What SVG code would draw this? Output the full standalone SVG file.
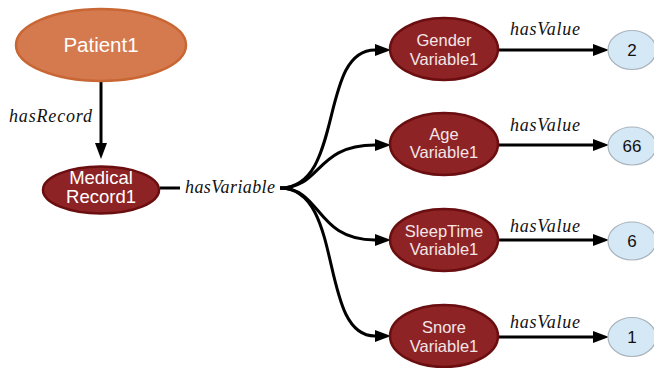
<svg xmlns="http://www.w3.org/2000/svg" width="654" height="368" viewBox="0 0 654 368">
<style>
.edge{fill:none;stroke:#000;stroke-width:3}
.lbl{font-family:"Liberation Serif",serif;font-style:italic;font-size:18px;fill:#111}
.var{fill:#8E2326;stroke:#6A0E10;stroke-width:2.5}
.vt{font-family:"Liberation Sans",Arial,sans-serif;font-size:16.5px;fill:#F3E6E6;text-anchor:middle}
.mt{font-family:"Liberation Sans",Arial,sans-serif;font-size:18.5px;fill:#FFF;text-anchor:middle}
.val{fill:#D5E8F6;stroke:#A9B3BC;stroke-width:1.2}
.valt{font-family:"Liberation Sans",Arial,sans-serif;font-size:17px;fill:#111;text-anchor:middle}
</style>
<defs>
<marker id="arr" markerUnits="userSpaceOnUse" markerWidth="16" markerHeight="12" refX="0" refY="6" orient="auto">
<path d="M0,0 L16,6 L0,12 z" fill="#000"/>
</marker>
</defs>
<g id="connectors">
<path class="edge" d="M101,81 L101,143" marker-end="url(#arr)"/>
<text class="lbl" x="9" y="122" textLength="83">hasRecord</text>
<path class="edge" d="M160,188 L180,188"/>
<text class="lbl" x="185" y="193" textLength="90">hasVariable</text>
<path class="edge" d="M280,188 C345,188 318,50 375,50" marker-end="url(#arr)"/>
<path class="edge" d="M280,188 C322,188 315,145 375,145" marker-end="url(#arr)"/>
<path class="edge" d="M280,188 C322,188 315,240 375,240" marker-end="url(#arr)"/>
<path class="edge" d="M280,188 C345,188 318,336 375,336" marker-end="url(#arr)"/>
<path class="edge" d="M498,50 L593,50" marker-end="url(#arr)"/>
<path class="edge" d="M498,145 L593,145" marker-end="url(#arr)"/>
<path class="edge" d="M498,240 L593,240" marker-end="url(#arr)"/>
<path class="edge" d="M498,337 L593,337" marker-end="url(#arr)"/>
<text class="lbl" x="510" y="35" textLength="70">hasValue</text>
<text class="lbl" x="510" y="131" textLength="70">hasValue</text>
<text class="lbl" x="510" y="232" textLength="70">hasValue</text>
<text class="lbl" x="510" y="328" textLength="70">hasValue</text>
</g>
<g id="patient1">
<ellipse cx="101" cy="45" rx="85" ry="36" fill="#D57A4F" stroke="#C86634" stroke-width="2.5"/>
<text x="101" y="52" font-family="Liberation Sans, Arial, sans-serif" font-size="20.5" fill="#FFF" text-anchor="middle">Patient1</text>
</g>
<g id="medicalrecord1">
<ellipse cx="101" cy="190" rx="58" ry="23.5" class="var"/>
<text class="mt" x="101" y="184">Medical</text>
<text class="mt" x="101" y="203">Record1</text>
</g>
<g id="gendervariable1">
<ellipse cx="444" cy="49" rx="54" ry="31" class="var"/>
<text class="vt" x="444" y="46">Gender</text>
<text class="vt" x="444" y="65">Variable1</text>
</g>
<g id="agevariable1">
<ellipse cx="444" cy="144" rx="54" ry="31" class="var"/>
<text class="vt" x="444" y="140">Age</text>
<text class="vt" x="444" y="158">Variable1</text>
</g>
<g id="sleeptimevariable1">
<ellipse cx="444" cy="240" rx="54" ry="31" class="var"/>
<text class="vt" x="444" y="237">SleepTime</text>
<text class="vt" x="444" y="255">Variable1</text>
</g>
<g id="snorevariable1">
<ellipse cx="444" cy="336" rx="54" ry="31" class="var"/>
<text class="vt" x="444" y="333">Snore</text>
<text class="vt" x="444" y="352">Variable1</text>
</g>
<g id="value2">
<ellipse cx="632" cy="50" rx="24" ry="19.5" class="val"/>
<text class="valt" x="632" y="56">2</text>
</g>
<g id="value66">
<ellipse cx="632" cy="146" rx="24" ry="19" class="val"/>
<text class="valt" x="632" y="152">66</text>
</g>
<g id="value6">
<ellipse cx="632" cy="241" rx="24" ry="19" class="val"/>
<text class="valt" x="632" y="247">6</text>
</g>
<g id="value1">
<ellipse cx="632" cy="337" rx="24" ry="19.5" class="val"/>
<text class="valt" x="632" y="343">1</text>
</g>
</svg>
